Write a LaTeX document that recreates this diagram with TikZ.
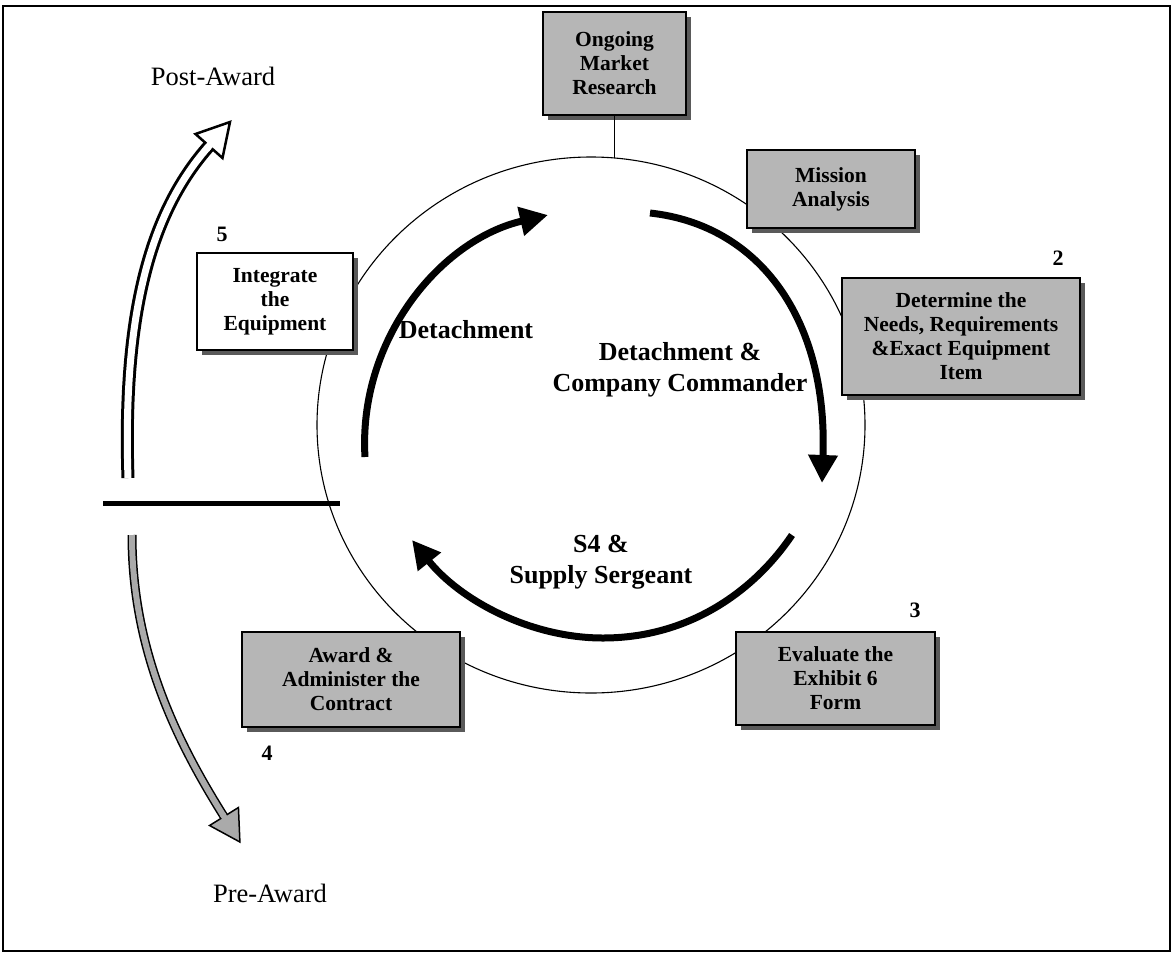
\documentclass[tikz,border=0pt]{standalone}
\usepackage{fontspec}
\setmainfont{Liberation Serif}
\usetikzlibrary{arrows.meta,shadows}
\definecolor{boxgray}{RGB}{182,182,182}
\definecolor{shadowgray}{RGB}{90,90,90}
\definecolor{arrowgray}{RGB}{170,170,170}
\begin{document}
\begin{tikzpicture}[x=1pt,y=-1pt,
  box/.style={draw=black, line width=1.8pt, fill=boxgray, align=center, inner sep=0pt,
    font=\fontsize{21.5}{24}\selectfont\bfseries,
    drop shadow={shadow xshift=5pt, shadow yshift=-5pt, fill=shadowgray, opacity=1}},
  whitebox/.style={box, fill=white},
  num/.style={font=\fontsize{22}{24}\selectfont\bfseries, inner sep=0pt},
  role/.style={font=\fontsize{26}{31}\selectfont\bfseries, align=center, inner sep=0pt},
  phase/.style={font=\fontsize{26.5}{30}\selectfont, inner sep=0pt},
  cyclearrow/.style={line width=7pt, -{Triangle[length=28pt,width=28pt]}},
  ring/.style={line width=1.1pt},
]
\useasboundingbox (0,0) rectangle (1173,954);
\draw[line width=1.5pt] (3,6) rectangle (1170,951);

% ring
\draw[ring] (591,425) ellipse [x radius=274pt, y radius=268pt];
\coordinate (ctop) at (614.5,158);

% boxes
\node[box, minimum width=143pt, minimum height=103pt] (market) at (614.5,63.5) {Ongoing\\Market\\Research};
\draw[ring] (market.south) -- (ctop);
\node[box, minimum width=168pt, minimum height=78pt] (mission) at (831,189) {Mission\\Analysis};
\node[box, minimum width=238pt, minimum height=117pt] (needs) at (961,336.5) {Determine the\\Needs, Requirements\\\&Exact Equipment\\Item};
\node[box, minimum width=199pt, minimum height=93pt] (evaluate) at (835.5,678.5) {Evaluate the\\Exhibit 6\\Form};
\node[box, minimum width=218pt, minimum height=95pt] (award) at (351,679.5) {Award \&\\Administer the\\Contract};
\node[whitebox, minimum width=156pt, minimum height=97pt] (integrate) at (275,301.5) {Integrate\\the\\Equipment};

% numbers
\node[num] (n2) at (1058,258) {2};
\node[num] (n3) at (915,610) {3};
\node[num] (n4) at (267,753) {4};
\node[num] (n5) at (222,234) {5};

% role labels
\node[role] (det) at (466,330) {Detachment};
\node[role] (dcc) at (680,370) {Detachment \&\\Company Commander};
\node[role] (s4) at (601,562) {S4 \&\\Supply Sergeant};

% cycle arrows
\coordinate (a1s) at (365,457);
\coordinate (a1e) at (548,215);
\coordinate (a2s) at (650,213);
\coordinate (a2e) at (822,483);
\coordinate (a3s) at (792,535);
\coordinate (a3m) at (603,638);
\coordinate (a3e) at (412,540);
\draw[cyclearrow] (a1s) .. controls (358,340) and (440,240) .. (a1e);
\draw[cyclearrow] (a2s) .. controls (760,225) and (828,320) .. (a2e);
\draw[cyclearrow] (a3s) .. controls (755,590) and (690,638) .. (a3m)
                        .. controls (530,638) and (460,600) .. (a3e);

% divider
\coordinate (hl) at (103,503);
\coordinate (hr) at (340,503);
\draw[line width=5pt] (hl) -- (hr);

% Post-Award arrow
\coordinate (p1) at (128,478);
\coordinate (p2) at (209,146);
\draw[line width=3pt, double=white, double distance=7pt] (p1) .. controls (122,300) and (156,206) .. (p2);
\draw[line width=2.5pt, fill=white, line join=miter] (195.5,134) -- (230,122) -- (222.5,158) -- cycle;
\draw[white, line width=7pt] (206.4,149) -- (212.3,142.25);

% Pre-Award arrow
\coordinate (q1) at (132,535);
\coordinate (q2) at (224,816.5);
\draw[line width=1.5pt, double=arrowgray, double distance=6pt] (q1) .. controls (132,650) and (176,740) .. (q2);
\draw[line width=1.5pt, fill=arrowgray, line join=miter] (238.45,807.5) -- (239.9,842) -- (209.55,825.5) -- cycle;
\draw[arrowgray, line width=6pt] (222.4,814) -- (226.1,819.9);

% phase labels
\node[phase] (post) at (213,76) {Post-Award};
\node[phase] (pre) at (270,893) {Pre-Award};
\end{tikzpicture}
\end{document}
